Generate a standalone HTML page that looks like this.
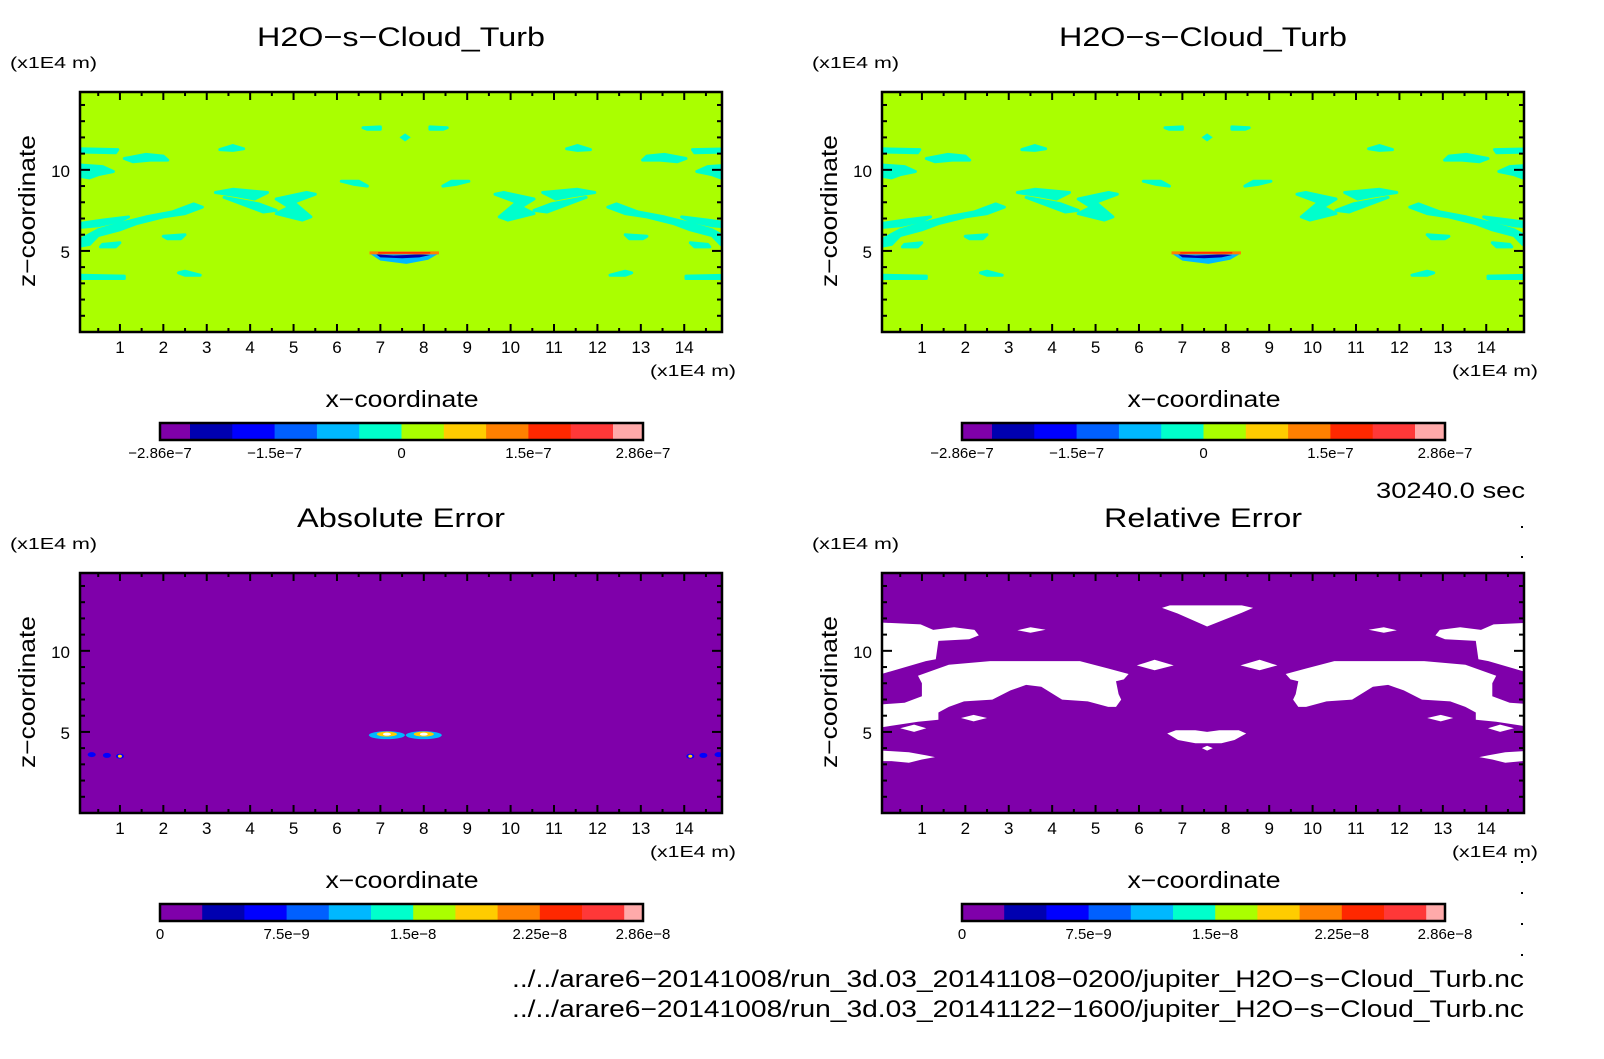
<!DOCTYPE html>
<html><head><meta charset="utf-8"><style>
html,body{margin:0;padding:0;background:#fff;}
svg text{font-family:"Liberation Sans",sans-serif;fill:#000;}
</style></head><body>
<svg id="root" width="1604" height="1054" viewBox="0 0 1604 1054" xmlns="http://www.w3.org/2000/svg"></svg>
<script>
// ---------- data ----------
const xRange=[0.08,14.87];
const yRange=[0,14.8];
const xTickValues=[1,2,3,4,5,6,7,8,9,10,11,12,13,14];
const yTickValues=[5,10];
const mirrorSum=15.14;
const fieldColors=["#7f00aa","#0000b0","#0000ff","#0060ff","#00b8ff","#00ffcc","#aaff00","#ffcc00","#ff8000","#ff2800","#ff3838","#ffaaaa"];
const topCbarLabels=["-2.86e-7","-1.5e-7","0","1.5e-7","2.86e-7"];
const topCbarLabelIdx=[0,3,6,9,12];
const errCbarLabels=["0","7.5e-9","1.5e-8","2.25e-8","2.86e-8"];
const errCbarLabelIdx=[0,3,6,9,12];
const cyanPatches=[
[[0.08,11.3],[0.95,11.25],[0.9,11.05],[0.08,11.1]],
[[1.1,10.7],[1.6,10.95],[2.0,10.85],[2.1,10.6],[1.7,10.6],[1.3,10.5]],
[[0.08,10.3],[0.6,10.2],[0.85,9.9],[0.5,9.7],[0.3,9.5],[0.08,9.6]],
[[3.3,11.25],[3.6,11.5],[3.85,11.3],[3.6,11.2]],
[[0.08,5.7],[0.5,6.3],[1.0,6.7],[1.6,7.1],[2.2,7.4],[2.7,7.9],[2.9,7.7],[2.5,7.3],[2.0,7.1],[1.4,6.7],[1.0,6.3],[0.5,5.95],[0.3,5.4],[0.08,5.3]],
[[0.08,6.7],[0.6,6.9],[1.2,7.1],[1.0,6.85],[0.5,6.55],[0.08,6.45]],
[[3.2,8.6],[3.6,8.8],[4.4,8.6],[4.1,8.2],[3.7,8.4]],
[[3.4,8.3],[4.2,7.9],[4.6,7.5],[4.3,7.4],[3.8,7.9]],
[[4.6,8.2],[5.3,8.6],[5.5,8.5],[5.0,8.0],[5.4,7.1],[5.2,6.9],[4.6,7.3],[4.9,7.7]],
[[6.1,9.3],[6.5,9.3],[6.7,9.0],[6.4,9.1]],
[[6.6,12.6],[7.0,12.65],[7.0,12.5],[6.7,12.5]],
[[0.08,3.5],[1.1,3.45],[1.1,3.3],[0.08,3.3]],
[[2.35,3.65],[2.5,3.75],[2.85,3.5],[2.5,3.5]],
[[2.0,5.9],[2.5,6.0],[2.4,5.75],[2.1,5.75]],
[[0.6,5.4],[1.0,5.5],[0.9,5.25],[0.55,5.25]]
];
const cyanCenter=[[7.57,12.25],[7.7,12.0],[7.57,11.75],[7.44,12.0]];
const blobOuter=[[6.75,4.85],[8.35,4.85],[8.1,4.45],[7.6,4.2],[7.0,4.4]];
const blobInner=[[6.9,4.8],[7.3,4.72],[7.6,4.75],[7.9,4.8],[8.15,4.75],[7.9,4.6],[7.5,4.55],[7.0,4.6]];
const blobTopLine=[6.75,8.35,4.88];
const whitePatches=[
[[3.2,11.27],[3.5,11.45],[3.85,11.3],[3.5,11.12]],
[[0.08,11.74],[0.97,11.63],[1.26,11.29],[1.74,11.45],[2.21,11.29],[2.31,10.95],[2.09,10.72],[1.38,10.61],[1.32,9.48],[1.09,9.37],[0.08,8.58]],
[[0.91,8.46],[1.62,9.14],[2.57,9.37],[4.64,9.37],[5.29,8.91],[5.76,8.57],[5.65,8.24],[5.47,8.12],[5.53,7.33],[5.59,6.99],[5.47,6.54],[5.29,6.54],[4.82,6.88],[4.23,6.99],[3.75,7.78],[3.4,7.9],[3.04,7.56],[2.62,6.99],[1.97,6.88],[1.62,6.54],[1.38,6.2],[1.38,5.75],[0.91,5.63],[0.08,5.29],[0.08,6.7],[0.6,6.8],[1.0,7.2],[1.0,8.0]],
[[1.9,5.86],[2.19,6.05],[2.5,5.86],[2.19,5.65]],
[[0.5,5.23],[0.82,5.45],[1.1,5.23],[0.82,5.0]],
[[5.95,9.1],[6.36,9.45],[6.8,9.1],[6.36,8.8]],
[[0.08,3.85],[0.7,3.75],[1.1,3.55],[1.3,3.45],[1.0,3.3],[0.7,3.1],[0.3,3.2],[0.08,3.2]]
];
const whiteCenter=[
[[6.53,12.65],[6.71,12.8],[8.37,12.8],[8.63,12.65],[8.37,12.35],[7.57,11.5],[6.89,12.3]],
[[6.65,4.9],[6.85,5.1],[7.3,5.1],[7.57,5.0],[7.85,5.1],[8.3,5.1],[8.47,4.9],[8.2,4.5],[7.9,4.3],[7.3,4.3],[6.9,4.5]],
[[7.45,4.0],[7.57,4.15],[7.7,4.0],[7.57,3.85]]
];
const absSpots=[[7.15,4.8],[8.0,4.8]];
const absDots=[[0.35,3.6],[0.7,3.55],[1.0,3.5]];

// ---------- drawing ----------
const NS="http://www.w3.org/2000/svg";
const root=document.getElementById('root');
function mk(tag,attrs,parent){const e=document.createElementNS(NS,tag);for(const k in attrs)e.setAttribute(k,attrs[k]);(parent||root).appendChild(e);return e;}
function txt(s,attrs,parent){const e=mk('text',attrs,parent);e.textContent=s;return e;}
const BX=80,BY=92,BW=642,BH=240;
function mirror(poly){return poly.map(p=>[mirrorSum-p[0],p[1]]);}

function panel(ox,oy,kind,title,titleLen,idx){
  const g=mk('g',{});
  
  
  const sx=x=>ox+BX+(x-xRange[0])/(xRange[1]-xRange[0])*BW;
  const sy=y=>oy+BY+BH-(y-yRange[0])/(yRange[1]-yRange[0])*BH;
  const pts=poly=>poly.map(p=>sx(p[0]).toFixed(1)+','+sy(p[1]).toFixed(1)).join(' ');
  const cid='clip'+idx;
  const cp=mk('clipPath',{id:cid},g);mk('rect',{x:ox+BX,y:oy+BY,width:BW,height:BH},cp);
  const fg=mk('g',{'clip-path':'url(#'+cid+')'},g);
  
  
  if(kind==='field'){
    mk('rect',{x:ox+BX,y:oy+BY,width:BW,height:BH,fill:fieldColors[6]},fg);
    cyanPatches.forEach(p=>{
      const a=mk('polygon',{points:pts(p),fill:fieldColors[5],stroke:fieldColors[5],'stroke-width':3,'stroke-linejoin':'round'},fg);
      
      
      const b=mk('polygon',{points:pts(mirror(p)),fill:fieldColors[5],stroke:fieldColors[5],'stroke-width':3,'stroke-linejoin':'round'},fg);
      
      
    });
    mk('polygon',{points:pts(cyanCenter),fill:fieldColors[5]},fg);
    mk('polygon',{points:pts(blobOuter),fill:fieldColors[4]},fg);
    mk('polygon',{points:pts(blobInner),fill:fieldColors[1]},fg);
    mk('line',{x1:sx(blobTopLine[0]),x2:sx(blobTopLine[1]),y1:sy(blobTopLine[2]),y2:sy(blobTopLine[2]),stroke:fieldColors[8],'stroke-width':3},fg);
    mk('line',{x1:sx(blobTopLine[0]+0.2),x2:sx(blobTopLine[1]-0.2),y1:sy(blobTopLine[2]),y2:sy(blobTopLine[2]),stroke:fieldColors[9],'stroke-width':1.5},fg);
  } else if(kind==='abs'){
    mk('rect',{x:ox+BX,y:oy+BY,width:BW,height:BH,fill:fieldColors[0]},fg);
    absSpots.forEach(s=>{
      const e=mk('ellipse',{cx:sx(s[0]),cy:sy(s[1]),rx:18,ry:4,fill:fieldColors[4]},fg);
      
      
      mk('ellipse',{cx:sx(s[0]),cy:sy(s[1])-1,rx:10,ry:2.5,fill:fieldColors[7]},fg);
      mk('ellipse',{cx:sx(s[0]),cy:sy(s[1])-1,rx:4,ry:1.5,fill:"#ffffff"},fg);
    });
    absDots.forEach(d=>{
      [d,[mirrorSum-d[0],d[1]]].forEach(q=>{
        const e=mk('ellipse',{cx:sx(q[0]),cy:sy(q[1]),rx:4,ry:2.5,fill:fieldColors[2]},fg);
        
        
      });
    });
    mk('ellipse',{cx:sx(1.0),cy:sy(3.5),rx:2,ry:1.5,fill:fieldColors[7]},fg);
    mk('ellipse',{cx:sx(mirrorSum-1.0),cy:sy(3.5),rx:2,ry:1.5,fill:fieldColors[7]},fg);
  } else {
    mk('rect',{x:ox+BX,y:oy+BY,width:BW,height:BH,fill:fieldColors[0]},fg);
    whitePatches.forEach(p=>{
      const a=mk('polygon',{points:pts(p),fill:"#fff"},fg);
      
      
      const b=mk('polygon',{points:pts(mirror(p)),fill:"#fff"},fg);
      
      
    });
    whiteCenter.forEach(p=>{
      const a=mk('polygon',{points:pts(p),fill:"#fff"},fg);
      
      
    });
  }
  const tg=mk('g',{stroke:'#000','stroke-width':2},g);
  for(let v=0.5;v<xRange[1];v+=0.5){
    const major=Math.abs(v-Math.round(v))<1e-6;const L=major?8:4;const x=sx(v);
    mk('line',{x1:x,x2:x,y1:oy+BY,y2:oy+BY+L},tg);
    mk('line',{x1:x,x2:x,y1:oy+BY+BH,y2:oy+BY+BH-L},tg);
  }
  for(let v=1;v<yRange[1];v+=1){
    const L=(v%5===0)?10:5;const y=sy(v);
    mk('line',{x1:ox+BX,x2:ox+BX+L,y1:y,y2:y},tg);
    mk('line',{x1:ox+BX+BW,x2:ox+BX+BW-L,y1:y,y2:y},tg);
  }
  const frame=mk('rect',{x:ox+BX,y:oy+BY,width:BW,height:BH,fill:'none',stroke:'#000','stroke-width':2.5},g);
  
  
  xTickValues.forEach(v=>{
    const t=txt(String(v),{x:sx(v),y:oy+353,'font-size':17,'text-anchor':'middle'},g);
    
    
  });
  yTickValues.forEach(v=>{
    const t=txt(String(v),{x:ox+70,y:sy(v)+7,'font-size':17,'text-anchor':'end'},g);
    
    
  });
  const ti=txt(title,{x:ox+401,y:oy+46,'font-size':27,'text-anchor':'middle',textLength:titleLen,lengthAdjust:'spacingAndGlyphs'},g);
  
  
  const yu=txt('(x1E4 m)',{x:ox+10,y:oy+68,'font-size':16,textLength:87,lengthAdjust:'spacingAndGlyphs'},g);
  
  
  const xu=txt('(x1E4 m)',{x:ox+650,y:oy+376,'font-size':16,textLength:86,lengthAdjust:'spacingAndGlyphs'},g);
  
  
  const xt=txt('x\u2212coordinate',{x:ox+402,y:oy+407,'font-size':23,'text-anchor':'middle',textLength:153,lengthAdjust:'spacingAndGlyphs'},g);
  
  
  const yt=txt('z\u2212coordinate',{x:0,y:0,'font-size':23,'text-anchor':'middle',textLength:152,lengthAdjust:'spacingAndGlyphs',transform:'translate('+(ox+35)+','+(oy+211)+') rotate(-90)'},g);
  
  
  const cb=mk('g',{},g);
  
  
  const cx0=ox+160,cw=483,cy0=oy+423,ch=17;
  let widths;
  if(kind==='field'){const w=(cw-60)/10;widths=[30].concat(Array(10).fill(w)).concat([30]);}
  else {const w=42.2;widths=Array(11).fill(w).concat([cw-11*w]);}
  let acc=cx0;const bounds=[acc];
  widths.forEach((w,i)=>{
    const r=mk('rect',{x:acc,y:cy0,width:w+0.5,height:ch,fill:fieldColors[i]},cb);
    
    
    acc+=w;bounds.push(acc);
  });
  mk('rect',{x:cx0,y:cy0,width:cw,height:ch,fill:'none',stroke:'#000','stroke-width':2.5},cb);
  const labs=kind==='field'?topCbarLabels:errCbarLabels;
  const li=kind==='field'?topCbarLabelIdx:errCbarLabelIdx;
  labs.forEach((s,i)=>{
    const x=bounds[li[i]];
    const t=txt(s.replace(/-/g,'\u2212'),{x:x,y:oy+458,'font-size':15,'text-anchor':'middle'},cb);
    
    
  });
}
panel(0,0,'field','H2O\u2212s\u2212Cloud_Turb',288,0);
panel(802,0,'field','H2O\u2212s\u2212Cloud_Turb',288,1);
panel(0,481,'abs','Absolute Error',208,2);
panel(802,481,'rel','Relative Error',198,3);

const tm=txt('30240.0 sec',{x:1525,y:498,'font-size':22,'text-anchor':'end',textLength:149,lengthAdjust:'spacingAndGlyphs'});


[527,557,862,893,924,955].forEach(y=>{mk('rect',{x:1521,y:y-1,width:2,height:2,fill:'#000'});});
const f1=txt('../../arare6\u221220141008/run_3d.03_20141108\u22120200/jupiter_H2O\u2212s\u2212Cloud_Turb.nc',{x:1524,y:987,'font-size':24,'text-anchor':'end',textLength:1012,lengthAdjust:'spacingAndGlyphs'});


const f2=txt('../../arare6\u221220141008/run_3d.03_20141122\u22121600/jupiter_H2O\u2212s\u2212Cloud_Turb.nc',{x:1524,y:1017,'font-size':24,'text-anchor':'end',textLength:1012,lengthAdjust:'spacingAndGlyphs'});


</script>
</body></html>
